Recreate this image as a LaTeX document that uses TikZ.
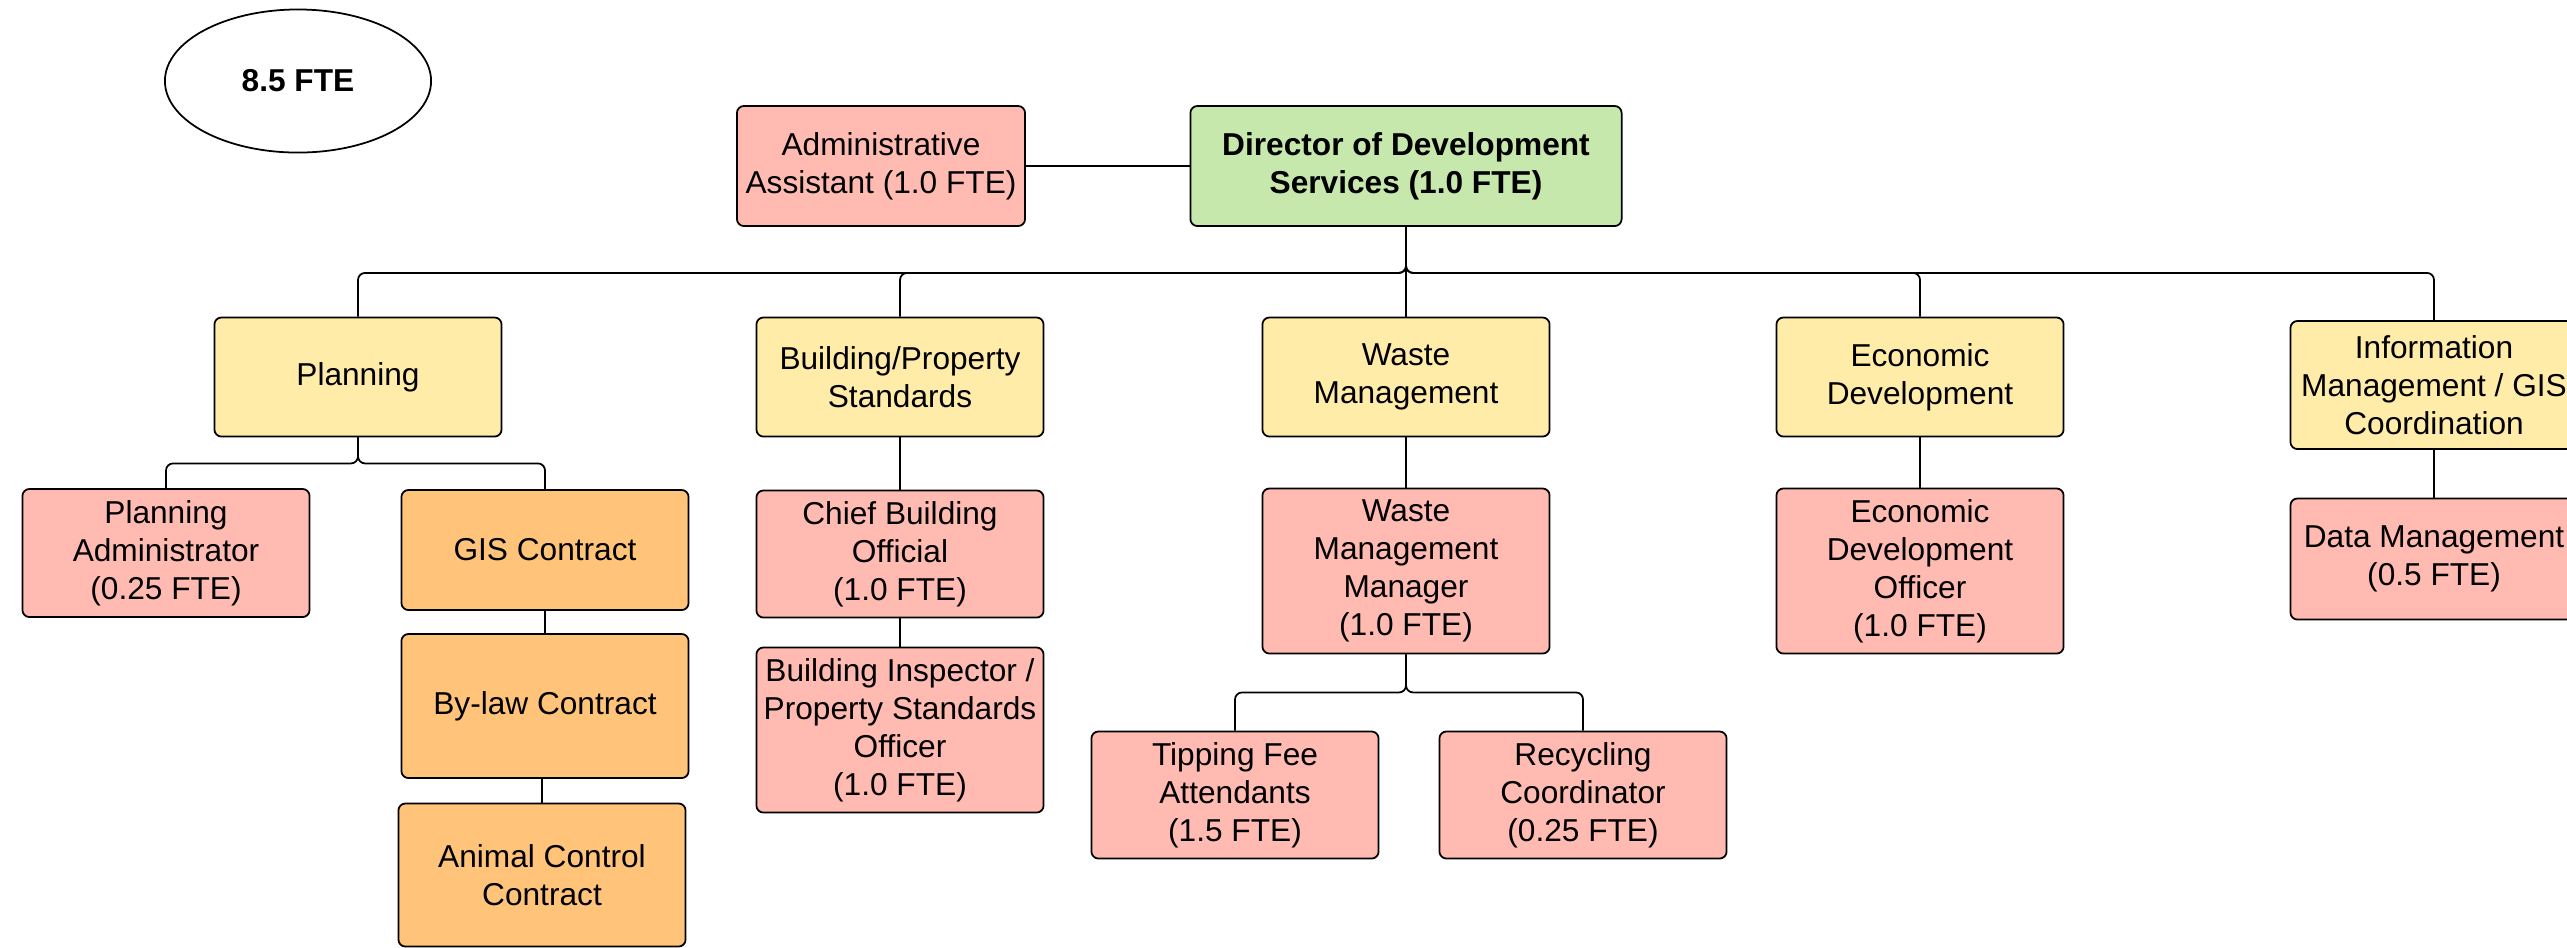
\documentclass[tikz,border=0pt]{standalone}
\usepackage{fontspec}
\setmainfont{Liberation Sans}
\usepackage{xcolor}
\usepackage{tikz}
\usetikzlibrary{shapes.geometric,positioning}

\definecolor{headgreen}{RGB}{199,232,172}
\definecolor{deptyellow}{RGB}{255,236,169}
\definecolor{staffpink}{RGB}{255,187,177}
\definecolor{contractorange}{RGB}{255,196,122}

\tikzset{
  unit/.style={draw, rounded corners=2pt, line width=0.5pt, minimum width=2.87cm,
    align=center, inner sep=1pt},
  head/.style={unit, fill=headgreen, font=\fontsize{9}{10.8}\selectfont\bfseries},
  dept/.style={unit, fill=deptyellow},
  staff/.style={unit, fill=staffpink},
  contract/.style={unit, fill=contractorange},
  link/.style={line width=0.5pt, rounded corners=2pt}
}

\begin{document}
\begin{tikzpicture}[x=0.01cm, y=-0.01cm, font=\fontsize{9}{10.8}\selectfont]
  \useasboundingbox (0,0) rectangle (2567,947);
  \clip (0,0) rectangle (2567,947);

  % total head count
  \node[draw, ellipse, line width=0.5pt, minimum width=2.66cm, minimum height=1.43cm,
    font=\fontsize{9}{10.8}\selectfont\bfseries] (total) at (298,81) {8.5 FTE};

  % top level
  \node[head, minimum width=4.31cm, minimum height=1.2cm] (director) at (1406,166)
    {Director of Development\\Services (1.0 FTE)};
  \node[staff, minimum width=2.88cm, minimum height=1.2cm] (admin) at (881,166)
    {Administrative\\Assistant (1.0 FTE)};

  % departments
  \node[dept, minimum height=1.19cm] (planning) at (358,377) {Planning};
  \node[dept, minimum height=1.19cm] (building) at (900,377) {Building/Property\\Standards};
  \node[dept, minimum height=1.19cm] (waste) at (1406,377) {Waste\\Management};
  \node[dept, minimum height=1.19cm] (econ) at (1920,377) {Economic\\Development};
  \node[dept, minimum height=1.28cm] (info) at (2434,385)
    {Information\\Management / GIS\\Coordination};

  % planning
  \node[staff, minimum height=1.28cm] (planadmin) at (166,553)
    {Planning\\Administrator\\(0.25 FTE)};
  \node[contract, minimum height=1.2cm] (gis) at (545,550) {GIS Contract};
  \node[contract, minimum height=1.44cm] (bylaw) at (545,706) {By-law Contract};
  \node[contract, minimum height=1.43cm] (animal) at (542,875) {Animal Control\\Contract};

  % building / property standards
  \node[staff, minimum height=1.27cm] (chief) at (900,554)
    {Chief Building\\Official\\(1.0 FTE)};
  \node[staff, minimum height=1.65cm] (inspector) at (900,730)
    {Building Inspector /\\Property Standards\\Officer\\(1.0 FTE)};

  % waste management
  \node[staff, minimum height=1.65cm] (manager) at (1406,571)
    {Waste\\Management\\Manager\\(1.0 FTE)};
  \node[staff, minimum height=1.27cm] (tipping) at (1235,795)
    {Tipping Fee\\Attendants\\(1.5 FTE)};
  \node[staff, minimum height=1.27cm] (recycling) at (1583,795)
    {Recycling\\Coordinator\\(0.25 FTE)};

  % economic development
  \node[staff, minimum height=1.65cm] (officer) at (1920,571)
    {Economic\\Development\\Officer\\(1.0 FTE)};

  % information management
  \node[staff, minimum height=1.21cm] (data) at (2434,559)
    {Data Management\\(0.5 FTE)};

  % reporting lines
  \draw[link] (admin.east) -- (director.west);
  \foreach \d in {planning,building,econ,info}
    \draw[link] (director.south) -- ++(0,46) -| (\d.north);
  \draw[link] (director.south) -- (waste.north);

  \foreach \s in {planadmin,gis}
    \draw[link] (planning.south) -- ++(0,26) -| (\s.north);
  \draw[link] (gis.south) -- (bylaw.north);
  \draw[link] (animal.north) -- (animal.north |- bylaw.south);

  \draw[link] (building.south) -- (chief.north);
  \draw[link] (chief.south) -- (inspector.north);

  \draw[link] (waste.south) -- (manager.north);
  \foreach \s in {tipping,recycling}
    \draw[link] (manager.south) -- ++(0,38) -| (\s.north);

  \draw[link] (econ.south) -- (officer.north);
  \draw[link] (info.south) -- (data.north);
\end{tikzpicture}
\end{document}
